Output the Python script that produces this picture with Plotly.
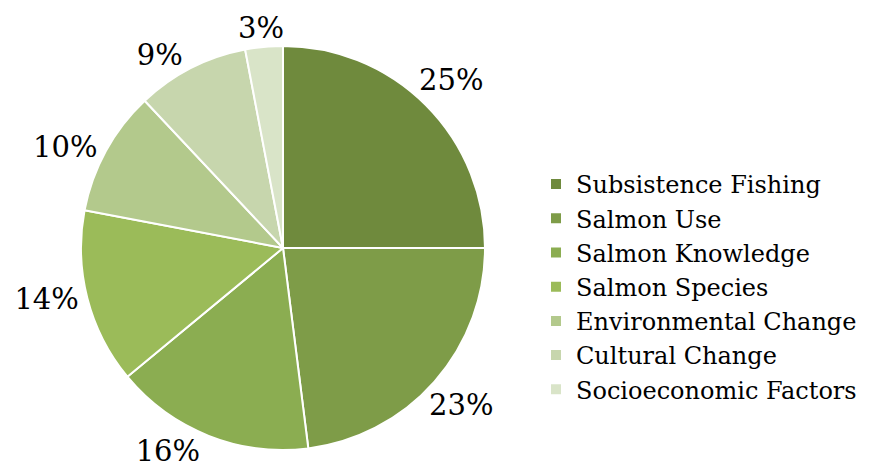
import math
import plotly.graph_objects as go

categories = ["Subsistence Fishing", "Salmon Use", "Salmon Knowledge", "Salmon Species",
              "Environmental Change", "Cultural Change", "Socioeconomic Factors"]
values = [25, 23, 16, 14, 10, 9, 3]
colors = ["#6F8A3D", "#7E9C48", "#8BAD51", "#9BBB59", "#B3C98C", "#C7D6AD", "#D9E4C8"]

W, H = 869, 469
cx, cy, R = 275, 240, 202  # pie centre and radius in figure pixels
FONT = "DejaVu Serif"
LABEL_SIZE = 29

total = sum(values)
# labels placed by plotly on the left side, by a radial rule on the right/top
native = [False, False, True, True, True, True, False]

fig = go.Figure(go.Pie(
    labels=categories,
    values=values,
    sort=False,
    direction="clockwise",
    rotation=0,
    marker=dict(colors=colors, line=dict(color="white", width=2)),
    textposition=["outside" if n else "none" for n in native],
    texttemplate="%{percent:.0%}",
    textfont=dict(family=FONT, size=LABEL_SIZE, color="black"),
    domain=dict(x=[(cx - R) / W, (cx + R) / W], y=[(H - cy - R) / H, (H - cy + R) / H]),
    hoverinfo="label+percent",
))

annotations = []
cum = 0
half_box = LABEL_SIZE * 0.68  # keep the label box inside the figure
for v, n in zip(values, native):
    mid = 2 * math.pi * (cum + v / 2) / total
    cum += v
    if n:
        continue
    txt = f"{round(100 * v / total)}%"
    ndig = len(txt) - 1
    hw = (ndig * 17 + 28) / 2
    d = R + 4 + hw
    x = cx + d * math.sin(mid)
    y = max(cy - d * math.cos(mid), half_box)
    annotations.append(dict(
        x=x / W, y=(H - y) / H, xref="paper", yref="paper",
        text=txt, showarrow=False, xanchor="center", yanchor="middle",
        borderpad=0,
        font=dict(family=FONT, size=LABEL_SIZE, color="black"),
    ))

fig.update_layout(
    width=W, height=H,
    margin=dict(l=0, r=0, t=0, b=0),
    paper_bgcolor="white",
    showlegend=True,
    annotations=annotations,
    legend=dict(
        x=528 / W, xanchor="left",
        y=(H - 279) / H, yanchor="middle",
        font=dict(family=FONT, size=24, color="black"),
        tracegroupgap=0,
    ),
)

fig.write_html("out.html")
